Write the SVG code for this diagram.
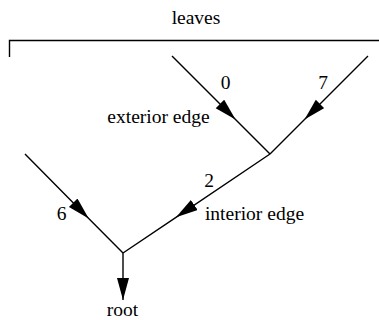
<svg xmlns="http://www.w3.org/2000/svg" width="379" height="320" viewBox="0 0 379 320">
<style>
.e{fill:none;stroke:#000;stroke-width:1.4}
.t{font-family:"Liberation Serif","Times New Roman",serif;font-size:19.5px;fill:#000;text-anchor:middle}
</style>
<defs>
<marker id="ah" markerUnits="userSpaceOnUse" markerWidth="23" markerHeight="13" refX="22" refY="6" orient="auto">
<path d="M0,0 L22,6 L0,12 z" fill="#000"/>
</marker>
</defs>
<rect width="379" height="320" fill="#fff"/>
<g id="leaves">
<path class="e" d="M9.5,57 V40.5 H379"/>
<text class="t" x="196" y="24">leaves</text>
</g>
<g id="connectors">
<path id="edge0" class="e" d="M172,56 L235.5,119.5 L270,154" marker-mid="url(#ah)"/>
<path id="edge7" class="e" d="M368,56 L304.5,119.5 L270,154" marker-mid="url(#ah)"/>
<path id="edge2" class="e" d="M270,154 L176,217.3 L123,253" marker-mid="url(#ah)"/>
<path id="edge6" class="e" d="M25,154 L88.7,218.4 L123,253" marker-mid="url(#ah)"/>
<path id="edgeRoot" class="e" d="M123,253 L123,300" marker-end="url(#ah)"/>
</g>
<g id="labels">
<text class="t" x="158.5" y="123">exterior edge</text>
<text class="t" x="225.5" y="89">0</text>
<text class="t" x="323" y="89">7</text>
<text class="t" x="209" y="187">2</text>
<text class="t" x="254.5" y="220">interior edge</text>
<text class="t" x="61.5" y="220">6</text>
</g>
<g id="root">
<text class="t" x="122.5" y="316">root</text>
</g>
</svg>
